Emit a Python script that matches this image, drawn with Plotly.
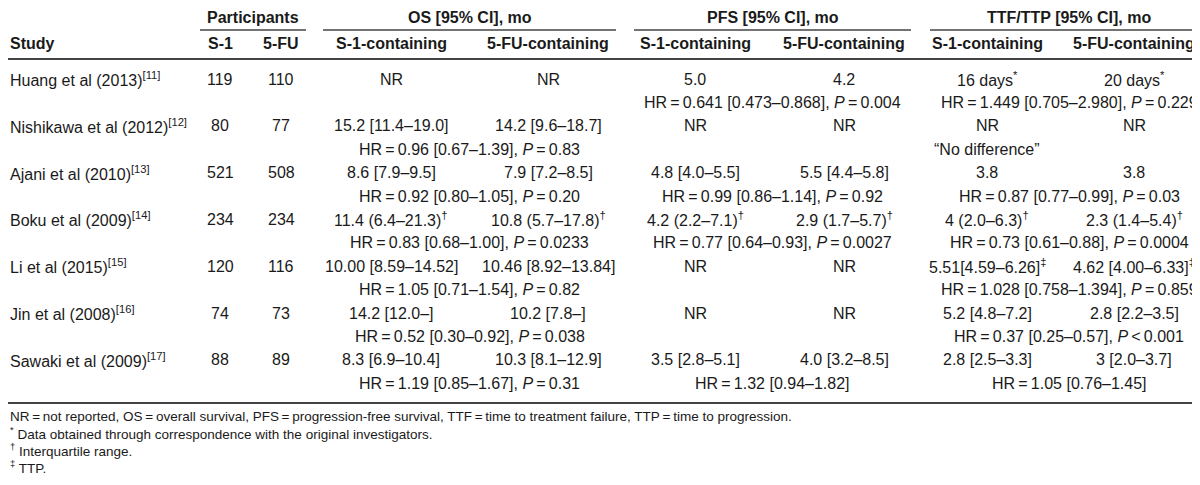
import plotly.graph_objects as go

# ---------------- data ----------------
studies = ["Huang et al (2013)", "Nishikawa et al (2012)", "Ajani et al (2010)", "Boku et al (2009)",
           "Li et al (2015)", "Jin et al (2008)", "Sawaki et al (2009)"]
refs = ["[11]", "[12]", "[13]", "[14]", "[15]", "[16]", "[17]"]
n_s1 = [119, 80, 521, 234, 120, 74, 88]
n_fu = [110, 77, 508, 234, 116, 73, 89]

E = "\u2009=\u2009"
os_s1 = ["NR", "15.2 [11.4–19.0]", "8.6 [7.9–9.5]", "11.4 (6.4–21.3)<sup>†</sup>", "10.00 [8.59–14.52]",
         "14.2 [12.0–]", "8.3 [6.9–10.4]"]
os_fu = ["NR", "14.2 [9.6–18.7]", "7.9 [7.2–8.5]", "10.8 (5.7–17.8)<sup>†</sup>", "10.46 [8.92–13.84]",
         "10.2 [7.8–]", "10.3 [8.1–12.9]"]
os_hr = ["", "HR" + E + "0.96 [0.67–1.39], <i>P</i>" + E + "0.83",
         "HR" + E + "0.92 [0.80–1.05], <i>P</i>" + E + "0.20",
         "HR" + E + "0.83 [0.68–1.00], <i>P</i>" + E + "0.0233",
         "HR" + E + "1.05 [0.71–1.54], <i>P</i>" + E + "0.82",
         "HR" + E + "0.52 [0.30–0.92], <i>P</i>" + E + "0.038",
         "HR" + E + "1.19 [0.85–1.67], <i>P</i>" + E + "0.31"]

pfs_s1 = ["5.0", "NR", "4.8 [4.0–5.5]", "4.2 (2.2–7.1)<sup>†</sup>", "NR", "NR", "3.5 [2.8–5.1]"]
pfs_fu = ["4.2", "NR", "5.5 [4.4–5.8]", "2.9 (1.7–5.7)<sup>†</sup>", "NR", "NR", "4.0 [3.2–8.5]"]
pfs_hr = ["HR" + E + "0.641 [0.473–0.868], <i>P</i>" + E + "0.004", "",
          "HR" + E + "0.99 [0.86–1.14], <i>P</i>" + E + "0.92",
          "HR" + E + "0.77 [0.64–0.93], <i>P</i>" + E + "0.0027", "", "",
          "HR" + E + "1.32 [0.94–1.82]"]

ttf_s1 = ["16 days<sup>*</sup>", "NR", "3.8", "4 (2.0–6.3)<sup>†</sup>", "5.51[4.59–6.26]<sup>‡</sup>",
          "5.2 [4.8–7.2]", "2.8 [2.5–3.3]"]
ttf_fu = ["20 days<sup>*</sup>", "NR", "3.8", "2.3 (1.4–5.4)<sup>†</sup>", "4.62 [4.00–6.33]<sup>‡</sup>",
          "2.8 [2.2–3.5]", "3 [2.0–3.7]"]
ttf_hr = ["HR" + E + "1.449 [0.705–2.980], <i>P</i>" + E + "0.229", "“No difference”",
          "HR" + E + "0.87 [0.77–0.99], <i>P</i>" + E + "0.03",
          "HR" + E + "0.73 [0.61–0.88], <i>P</i>" + E + "0.0004",
          "HR" + E + "1.028 [0.758–1.394], <i>P</i>" + E + "0.859",
          "HR" + E + "0.37 [0.25–0.57], <i>P</i>\u2009&lt;\u20090.001",
          "HR" + E + "1.05 [0.76–1.45]"]

group_headers = ["Participants", "OS [95% CI], mo", "PFS [95% CI], mo", "TTF/TTP [95% CI], mo"]
sub_headers = ["S-1", "5-FU", "S-1-containing", "5-FU-containing", "S-1-containing", "5-FU-containing",
               "S-1-containing", "5-FU-containing"]
footnotes = ["NR" + E + "not reported, OS" + E + "overall survival, PFS" + E + "progression-free survival, "
             "TTF" + E + "time to treatment failure, TTP" + E + "time to progression.",
             "<sup>*</sup> Data obtained through correspondence with the original investigators.",
             "<sup>†</sup> Interquartile range.",
             "<sup>‡</sup> TTP."]

# ---------------- layout constants ----------------
W, H = 1200, 485
FONT = "Liberation Sans, Arial, sans-serif"
TXT = "#1a1a1a"
FS = 16
FS_FOOT = 13.5

col_x = [212, 273, 383, 540, 687, 836, 979, 1126]
groups = [(192, 298), (315, 608), (626, 903), (922, 1200)]
y_group = 9
y_group_line = 22
y_sub = 35
y_head_rule = 51
y_row0 = 71
row_pitch = 46.8
line_pitch = 23.4
y_bottom_rule = 395
y_foot0 = 408
foot_pitch = 17

ann = []


def add(x, y, text, anchor="center", size=FS, bold=False):
    ann.append(dict(x=x, y=y, xref="x", yref="y", text=("<b>%s</b>" % text) if bold else text,
                    showarrow=False, xanchor=anchor, yanchor="middle",
                    font=dict(family=FONT, size=size, color=TXT)))


# headers
for (x0, x1), g in zip(groups, group_headers):
    add((x0 + x1) / 2, y_group, g, bold=True)
add(0, y_sub, "Study", anchor="left", bold=True)
for x, s in zip(col_x, sub_headers):
    add(x, y_sub, s, bold=True)

# rows
for i in range(len(studies)):
    y = y_row0 + i * row_pitch
    y2 = y + line_pitch
    add(0, y, studies[i] + "<sup>" + refs[i] + "</sup>", anchor="left")
    vals = [str(n_s1[i]), str(n_fu[i]), os_s1[i], os_fu[i], pfs_s1[i], pfs_fu[i], ttf_s1[i], ttf_fu[i]]
    for x, v in zip(col_x, vals):
        add(x, y, v)
    for (x0, x1), hr in zip(groups[1:], [os_hr[i], pfs_hr[i], ttf_hr[i]]):
        if not hr:
            continue
        if hr.startswith("“"):
            add(col_x[6], y2, hr)
        else:
            add((x0 + x1) / 2, y2, hr)

# footnotes
for k, f in enumerate(footnotes):
    add(0, y_foot0 + k * foot_pitch, f, anchor="left", size=FS_FOOT)

shapes = []
for x0, x1 in groups:
    shapes.append(dict(type="line", xref="x", yref="y", x0=x0, x1=x1, y0=y_group_line, y1=y_group_line,
                       line=dict(color="#444444", width=1.3)))
for yy in (y_head_rule, y_bottom_rule):
    shapes.append(dict(type="line", xref="x", yref="y", x0=0, x1=W, y0=yy, y1=yy,
                       line=dict(color="#444444", width=2)))

fig = go.Figure()
fig.add_trace(go.Scatter(x=[0, W], y=[0, H], mode="markers", marker=dict(opacity=0), hoverinfo="skip",
                         showlegend=False))
fig.update_layout(
    width=W, height=H, margin=dict(l=0, r=0, t=0, b=0),
    paper_bgcolor="white", plot_bgcolor="white",
    xaxis=dict(range=[0, W], visible=False, fixedrange=True),
    yaxis=dict(range=[H, 0], visible=False, fixedrange=True),
    annotations=ann, shapes=shapes, showlegend=False,
)
fig.write_html("out.html")
